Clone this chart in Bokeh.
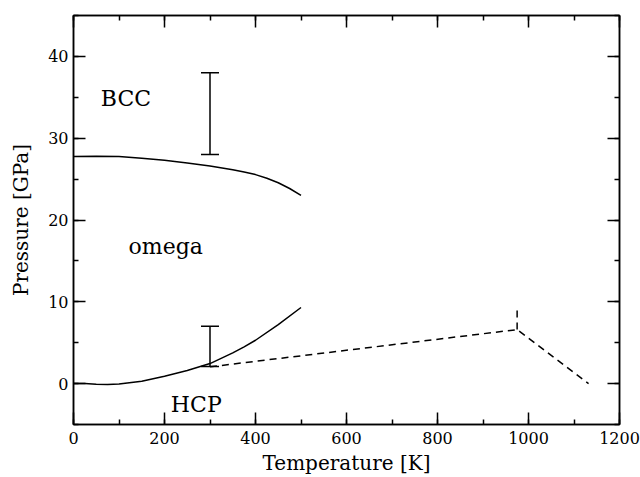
from bokeh.plotting import figure
from bokeh.models import (LinearAxis, SingleIntervalTicker, Range1d, ColumnDataSource,
                          Whisker, TeeHead, CustomJSTickFormatter)
from bokeh.core.properties import value
from bokeh.embed import file_html
from bokeh.resources import INLINE

# ---- data ----
upper_T = [0, 50, 100, 150, 200, 250, 300, 350, 375, 400, 425, 450, 475, 500]
upper_P = [27.75, 27.8, 27.75, 27.55, 27.3, 26.97, 26.6, 26.15, 25.87, 25.55, 25.1, 24.55, 23.85, 23.0]

lower_T = [0, 25, 50, 75, 100, 150, 200, 250, 300, 350, 375, 400, 450, 500]
lower_P = [0.0, 0.0, -0.08, -0.1, -0.05, 0.3, 0.9, 1.6, 2.45, 3.75, 4.5, 5.3, 7.2, 9.3]

dash_T = [300, 975, 1132]
dash_P = [2.05, 6.6, 0.0]
dash_up_T = [975, 975]
dash_up_P = [6.6, 9.2]

err_T = [300, 300]
err_low = [28.0, 2.1]
err_high = [38.0, 7.0]

label_text = ["BCC", "omega", "HCP"]
label_T = [60, 121, 214]
label_P = [34.9, 16.7, -2.5]

x_ticks_interval = 200
y_ticks_interval = 10

FONT = "DejaVu Serif"

p = figure(width=640, height=477, output_backend="svg", toolbar_location=None,
           x_range=Range1d(0, 1200), y_range=Range1d(-5, 45),
           x_axis_label="Temperature [K]", y_axis_label="Pressure [GPa]",
           min_border_left=73, min_border_right=21, min_border_top=15, min_border_bottom=53)
p.xgrid.visible = False
p.ygrid.visible = False
p.outline_line_color = "black"
p.outline_line_width = 1.5
p.background_fill_color = "white"
p.border_fill_color = "white"

xt = SingleIntervalTicker(interval=x_ticks_interval, num_minor_ticks=2)
yt = SingleIntervalTicker(interval=y_ticks_interval, num_minor_ticks=2)
p.xaxis.ticker = xt
p.yaxis.ticker = yt

for ax in [p.xaxis[0], p.yaxis[0]]:
    ax.major_tick_in = 12
    ax.major_tick_out = 0
    ax.minor_tick_in = 5
    ax.minor_tick_out = 0
    ax.major_tick_line_width = 1.5
    ax.minor_tick_line_width = 1.5
    ax.axis_line_width = 1.5
    ax.major_label_text_font = FONT
    ax.major_label_text_font_size = "16px"
    ax.major_label_text_color = "black"
    ax.axis_label_text_font = FONT
    ax.axis_label_text_font_size = "20px"
    ax.axis_label_text_font_style = "normal"
    ax.axis_label_text_color = "black"
p.xaxis.major_label_standoff = 7
p.xaxis.axis_label_standoff = 4
p.yaxis.major_label_standoff = 5
p.yaxis.axis_label_standoff = 12

blank = CustomJSTickFormatter(code="return ''")
top = LinearAxis(ticker=SingleIntervalTicker(interval=x_ticks_interval, num_minor_ticks=2),
                 formatter=blank)
right = LinearAxis(ticker=SingleIntervalTicker(interval=y_ticks_interval, num_minor_ticks=2),
                   formatter=blank)
for ax in [top, right]:
    ax.major_tick_in = 12
    ax.major_tick_out = 0
    ax.minor_tick_in = 5
    ax.minor_tick_out = 0
    ax.major_tick_line_width = 1.5
    ax.minor_tick_line_width = 1.5
    ax.axis_line_width = 1.5
    ax.major_label_standoff = 0
p.add_layout(top, "above")
p.add_layout(right, "right")

p.line(upper_T, upper_P, line_color="black", line_width=1.5)
p.line(lower_T, lower_P, line_color="black", line_width=1.5)
p.line(dash_T, dash_P, line_color="black", line_width=1.5, line_dash="7 5")
p.line(dash_up_T, dash_up_P, line_color="black", line_width=1.5, line_dash="7 5")

src = ColumnDataSource(dict(x=err_T, lower=err_low, upper=err_high))
w = Whisker(source=src, base="x", lower="lower", upper="upper", dimension="height",
            line_color="black", line_width=1.5,
            upper_head=TeeHead(size=18, line_color="black", line_width=1.5),
            lower_head=TeeHead(size=18, line_color="black", line_width=1.5))
p.add_layout(w)

p.text(x=label_T, y=label_P, text=label_text, text_font=value(FONT),
       text_font_size="22px", text_color="black", text_align="left",
       text_baseline="alphabetic")

open("out.html", "w").write(file_html(p, INLINE))
